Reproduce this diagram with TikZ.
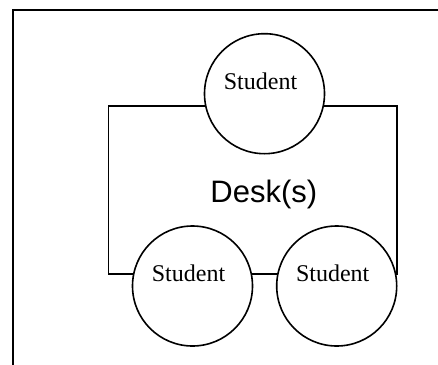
\documentclass[tikz,border=0pt]{standalone}
\usepackage{fontspec}
\setmainfont{Liberation Serif}
\newfontfamily\deskfont{Liberation Sans}
\begin{document}
\begin{tikzpicture}[x=1pt,y=-1pt,
  seat/.style={circle,draw,line width=1.6pt,fill=white,minimum size=120pt,inner sep=0pt},
  seatlabel/.style={anchor=base,inner sep=0pt,font=\fontsize{24}{28}\selectfont},
  line/.style={line width=1.6pt}]
\useasboundingbox (0,0) rectangle (438,364);
% outer frame (only left and top edges visible)
\coordinate (fb) at (12.7,370);
\coordinate (fc) at (12.7,10.2);
\coordinate (fr) at (445,10.2);
\draw[line width=1.8pt] (fb) -- (fc) -- (fr);
% desk
\coordinate (d1) at (108.3,106);
\coordinate (d2) at (396.7,274);
\draw[line] (d1) rectangle (d2);
% students
\node[seat] (s1) at (264.5,93.7) {};
\node[seat] (s2) at (192.5,286) {};
\node[seat] (s3) at (336.7,286) {};
\node[seatlabel] (t1) at ([shift={(-4,-4.4)}]s1.center) {Student};
\node[seatlabel] (t2) at ([shift={(-4,-4.2)}]s2.center) {Student};
\node[seatlabel] (t3) at ([shift={(-4,-4.2)}]s3.center) {Student};
\node[anchor=base,inner sep=0pt,font=\deskfont\fontsize{31}{36}\selectfont] (desk) at (263.8,202.3) {Desk(s)};
\end{tikzpicture}
\end{document}
